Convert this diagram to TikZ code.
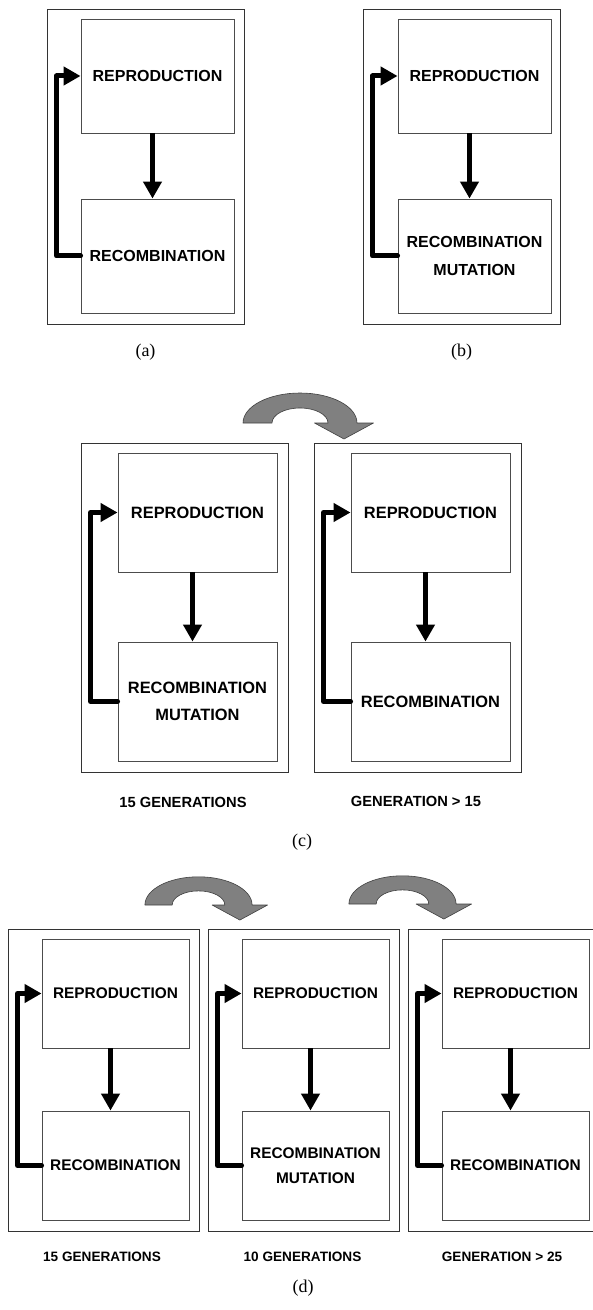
\documentclass[tikz,border=0pt]{standalone}
\usepackage{fontspec}
\setmainfont{Liberation Serif}
\newfontfamily\arialfam{Liberation Sans}
\usetikzlibrary{arrows.meta}
\def\boxfs{16}
\def\boxbs{27.5}
\tikzset{
  outerbox/.style={draw=black!80, line width=0.9bp, inner sep=0pt},
  innerbox/.style={draw=black!70, line width=0.9bp, inner sep=0pt, align=center,
    font=\arialfam\bfseries\fontsize{\boxfs bp}{\boxbs bp}\selectfont},
  fb/.style={line width=5bp, line join=round, line cap=round,
    -{Triangle[length=17bp,width=18bp]}},
  downarr/.style={line width=5bp, -{Triangle[length=17bp,width=18bp]}},
  genlabel/.style={font=\arialfam\bfseries\fontsize{\boxfs bp}{16bp}\selectfont, inner sep=0pt},
  sublabel/.style={font=\fontsize{18bp}{20bp}\selectfont, inner sep=0pt},
  curvearr/.style={fill=black!50, draw=black!75, line width=0.6bp, line join=round}
}
% #1 prefix, #2 x0, #3 y0, #4 W, #5 H, #6 inner offset, #7 inner w, #8 box h, #9 bottom text
\newcommand\gapanel[9]{%
  \node[outerbox, minimum width=#4bp, minimum height=#5bp] (#1-out) at ({#2+#4/2},{#3+#5/2}) {};
  \node[innerbox, minimum width=#7bp, minimum height=#8bp] (#1-top) at ({#2+#6+#7/2},{#3+10+#8/2}) {REPRODUCTION};
  \node[innerbox, minimum width=#7bp, minimum height=#8bp] (#1-bot) at ({#2+#6+#7/2},{#3+#5-11-#8/2}) {#9};
  \coordinate (#1-c1) at ({#2+9.5},{#3+#5-11-#8/2});
  \coordinate (#1-c2) at ({#2+9.5},{#3+10+#8/2});
  \draw[fb] (#1-bot.west) -- (#1-c1) -- (#1-c2) -- (#1-top.west);
  \draw[downarr] ([xshift=-5bp]#1-top.south) -- ([xshift=-5bp]#1-bot.north);
}
% curved arrow: #1 cx, #2 base y, #3 scale
\newcommand\gacurve[3]{%
  \begin{scope}[shift={(#1,#2)}, scale=#3]
    \path[curvearr] (-57,0) .. controls (-57,-16.6) and (-31.5,-30) .. (0,-30)
      .. controls (31.5,-30) and (57,-16.6) .. (57,0)
      -- (73.5,0) -- (44,16) -- (14.5,0) -- (28,0)
      .. controls (28,-8.3) and (15.5,-15) .. (0,-15)
      .. controls (-15.5,-15) and (-28,-8.3) .. (-28,0) -- cycle;
  \end{scope}
}
\begin{document}
\begin{tikzpicture}[x=1bp, y=-1bp]
  \useasboundingbox (0,0) rectangle (593,1310);
  \fill[white] (0,0) rectangle (593,1310);
  % (a) and (b)
  \def\boxfs{16}\def\boxbs{28}
  \gapanel{a}{47}{9}{197}{315}{34}{153}{114}{RECOMBINATION}
  \gapanel{b}{363}{9}{197}{315}{35}{153}{114}{RECOMBINATION\\MUTATION}
  \node[sublabel] (la) at (145.5,352) {(a)};
  \node[sublabel] (lb) at (461.5,352) {(b)};
  % (c)
  \gacurve{300}{423}{1}
  \def\boxfs{16.4}\def\boxbs{27}
  \gapanel{c1}{81}{443}{207}{329}{37}{159}{119}{RECOMBINATION\\MUTATION}
  \gapanel{c2}{314}{443}{207}{329}{37}{159}{119}{RECOMBINATION}
  \def\boxfs{14.7}
  \node[genlabel] (gc1) at (183,802) {15 GENERATIONS};
  \node[genlabel] (gc2) at (416,801) {GENERATION > 15};
  \node[sublabel] (lc) at (302,842) {(c)};
  % (d)
  \gacurve{198.5}{905}{0.94}
  \gacurve{402.5}{904}{0.94}
  \def\boxfs{15.4}\def\boxbs{25.5}
  \gapanel{d1}{8}{929}{191}{302}{34}{147}{109}{RECOMBINATION}
  \gapanel{d2}{208}{929}{191}{302}{34}{147}{109}{RECOMBINATION\\MUTATION}
  \gapanel{d3}{408}{929}{191}{302}{34}{147}{109}{RECOMBINATION}
  \def\boxfs{13.6}
  \node[genlabel] (gd1) at (102,1257) {15 GENERATIONS};
  \node[genlabel] (gd2) at (302.5,1257) {10 GENERATIONS};
  \node[genlabel] (gd3) at (502,1257) {GENERATION > 25};
  \node[sublabel] (ld) at (303,1288) {(d)};
\end{tikzpicture}
\end{document}
